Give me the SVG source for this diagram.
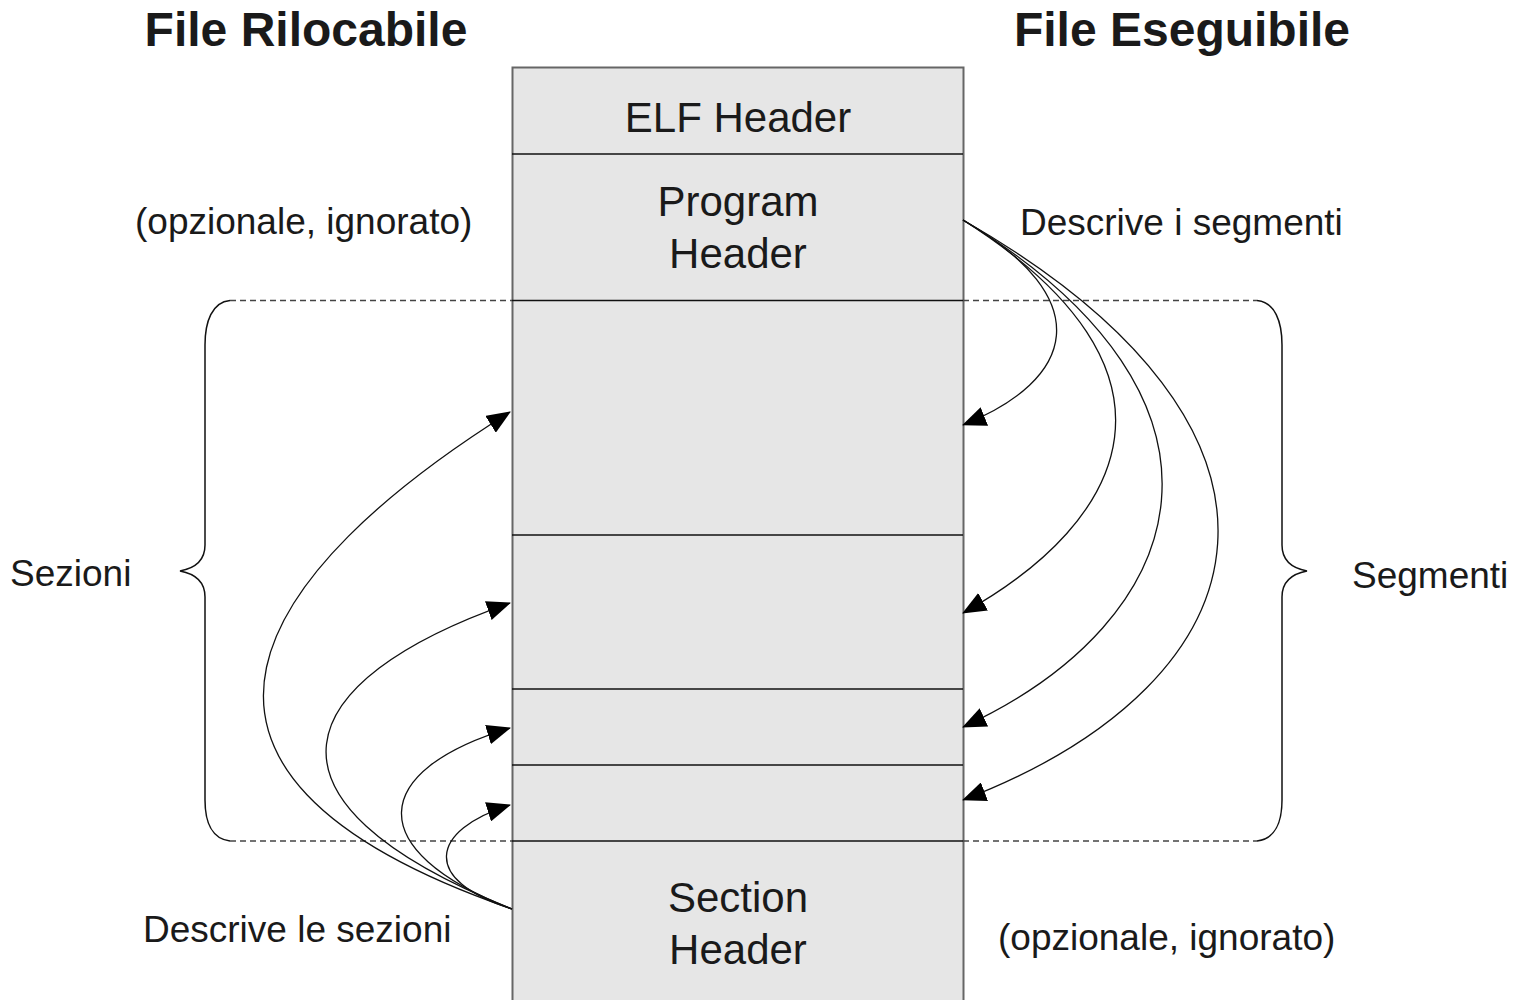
<svg xmlns="http://www.w3.org/2000/svg" width="1518" height="1000" viewBox="0 0 1518 1000">
<style>
text{font-family:"Liberation Sans",Arial,sans-serif;fill:#1a1a1a}
.title{font-size:48px;font-weight:bold;text-anchor:middle}
.big{font-size:42px;text-anchor:middle}
.lbl{font-size:37px}
.div{stroke:#111;stroke-width:1.5}
.dash{stroke:#444;stroke-width:1.3;stroke-dasharray:6 4;fill:none}
.brace{stroke:#111;stroke-width:1.5;fill:none}
.conn path{stroke:#111;stroke-width:1.3;fill:none;marker-end:url(#ah)}
</style>
<defs>
<marker id="ah" markerUnits="userSpaceOnUse" markerWidth="24" markerHeight="20" refX="23" refY="10" orient="auto">
<path d="M0,0 L24,10 L0,20 z" fill="#000"/>
</marker>
</defs>
<rect width="1518" height="1000" fill="#fff"/>
<text class="title" x="306" y="46">File Rilocabile</text>
<text class="title" x="1182" y="46">File Eseguibile</text>
<g id="elf">
<rect x="512.5" y="67.5" width="451" height="940" fill="#e6e6e6" stroke="#666" stroke-width="2"/>
<line class="div" x1="512" y1="154" x2="963" y2="154"/>
<line class="div" x1="512" y1="300.5" x2="963" y2="300.5"/>
<line class="div" x1="512" y1="535" x2="963" y2="535"/>
<line class="div" x1="512" y1="689" x2="963" y2="689"/>
<line class="div" x1="512" y1="765" x2="963" y2="765"/>
<line class="div" x1="512" y1="841" x2="963" y2="841"/>
<text class="big" x="738" y="132">ELF Header</text>
<text class="big" x="738" y="216">Program</text>
<text class="big" x="738" y="268">Header</text>
<text class="big" x="738" y="912">Section</text>
<text class="big" x="738" y="964">Header</text>
</g>
<g id="brackets">
<line class="dash" x1="230" y1="300.5" x2="512" y2="300.5"/>
<line class="dash" x1="963" y1="300.5" x2="1257" y2="300.5"/>
<line class="dash" x1="230" y1="841" x2="512" y2="841"/>
<line class="dash" x1="963" y1="841" x2="1257" y2="841"/>
<path class="brace" d="M230,300.5 C212,302 205,322 205,345 L205,545 C205,560 196,568 180,571 C196,574 205,582 205,597 L205,800 C205,822 212,839 230,841"/>
<path class="brace" d="M1257,300.5 C1275,302 1282,322 1282,345 L1282,545 C1282,560 1291,568 1307,571 C1291,574 1282,582 1282,597 L1282,800 C1282,822 1275,839 1257,841"/>
</g>
<g id="labels">
<text class="lbl" x="135" y="234">(opzionale, ignorato)</text>
<text class="lbl" x="1020" y="235">Descrive i segmenti</text>
<text class="lbl" x="10" y="586">Sezioni</text>
<text class="lbl" x="1352" y="588">Segmenti</text>
<text class="lbl" x="143" y="942">Descrive le sezioni</text>
<text class="lbl" x="998" y="950">(opzionale, ignorato)</text>
</g>
<g id="connectors" class="conn">
<path d="M963,220 C1100,300 1075,380 963,425"/>
<path d="M963,220 C1200,370 1130,520 963,613"/>
<path d="M963,220 C1260,400 1195,620 963,727"/>
<path d="M963,220 C1330,430 1275,680 963,800"/>
<path d="M512,909 C110,770 260,569 510,412"/>
<path d="M512,909 C240,800 290,680 510,603"/>
<path d="M512,909 C360,850 370,770 510,728"/>
<path d="M512,909 C420,880 430,830 510,805"/>
</g>
</svg>
